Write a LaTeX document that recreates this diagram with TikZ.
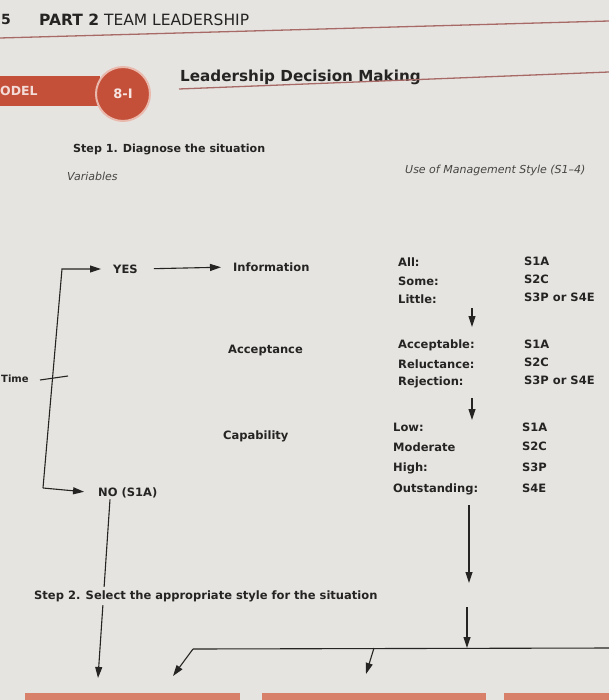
\documentclass[tikz,border=0pt]{standalone}
\usepackage{fontspec}
\setmainfont{DejaVu Sans}
\usetikzlibrary{arrows.meta}

\definecolor{paper}{HTML}{E6E4E1}
\definecolor{ink}{HTML}{262422}
\definecolor{brick}{HTML}{C4503A}
\definecolor{rulered}{HTML}{A86A66}
\definecolor{salmon}{HTML}{D8806A}

\tikzset{
  lbl/.style={text=ink, inner sep=1pt, anchor=west, font=\bfseries\fontsize{11.5}{13}\selectfont},
  slant/.style={text=ink!85, inner sep=1pt, anchor=west, font=\itshape\fontsize{11}{13}\selectfont},
  arr/.style={ink, line width=1.1pt, -{Triangle[length=11pt,width=7pt]}},
  ln/.style={ink, line width=1.1pt}
}

\begin{document}
\begin{tikzpicture}[x=1pt,y=-1pt]
  \fill [paper] (0,0) rectangle (609,700);
  \useasboundingbox (0,0) rectangle (609,700);

  % page head
  \node [lbl, font=\bfseries\fontsize{14}{16}\selectfont] (pg) at (0,20) {5};
  \node [lbl, font=\fontsize{15.5}{17}\selectfont] (part) at (38,20) {\textbf{PART 2} TEAM LEADERSHIP};
  \draw [rulered, line width=1.3pt] (0,38) -- (609,21);

  % model banner
  \fill [brick] (0,76) rectangle (100,106);
  \node [lbl, text=white!80!brick, font=\bfseries\fontsize{12.5}{14}\selectfont] (model) at (-1,91) {ODEL};
  \node [circle, fill=brick, draw=salmon!55!white, line width=2pt, minimum size=54pt,
         text=white!85!brick, font=\bfseries\fontsize{13}{14}\selectfont] (num) at (123,94) {8-I};
  \node [lbl, font=\bfseries\fontsize{15.2}{17}\selectfont] (title) at (179,77) {Leadership Decision Making};
  \draw [rulered, line width=1.3pt] (179,89) -- (609,72);

  % step 1
  \node [lbl, font=\bfseries\fontsize{11.1}{13}\selectfont] (step1) at (72,149) {Step 1. Diagnose the situation};
  \node [slant] (vars) at (66,176) {Variables};
  \node [slant] (use) at (404,170) {Use of Management Style (S1--4)};

  % variables
  \node [lbl] (yes) at (112,269) {YES};
  \node [lbl] (info) at (232,267) {Information};
  \node [lbl] (accept) at (227,351) {Acceptance};
  \node [lbl] (capab) at (222,436) {Capability};
  \node [lbl] (no) at (97,493) {NO (S1A)};
  \node [lbl, font=\bfseries\fontsize{10}{12}\selectfont] (time) at (0,379) {Time};

  \coordinate (ltop) at (62,269);
  \coordinate (lbot) at (43,488);
  \coordinate (tick) at (40,380);
  \draw [arr, shorten >=11pt] (lbot) -- (ltop) -- (yes.west);
  \draw [arr, shorten >=13pt] (lbot) -- (no.west);
  \draw [ln] (tick) -- ++(28,-4);
  \draw [arr, shorten <=15pt, shorten >=11pt] (yes.east) -- (info.west);

  % levels
  \node [lbl] (all) at (397,262) {All:};
  \node [lbl] (some) at (397,281) {Some:};
  \node [lbl] (little) at (397,299) {Little:};
  \node [lbl] (acc) at (397,345) {Acceptable:};
  \node [lbl] (rel) at (397,364) {Reluctance:};
  \node [lbl] (rej) at (397,382) {Rejection:};
  \node [lbl] (low) at (392,427) {Low:};
  \node [lbl] (mod) at (392,447) {Moderate};
  \node [lbl] (high) at (392,468) {High:};
  \node [lbl] (outs) at (392,489) {Outstanding:};

  % styles
  \node [lbl] (sa) at (523,261) {S1A};
  \node [lbl] (sb) at (523,279) {S2C};
  \node [lbl] (sc) at (523,297) {S3P or S4E};
  \node [lbl] (sd) at (523,344) {S1A};
  \node [lbl] (se) at (523,362) {S2C};
  \node [lbl] (sf) at (523,380) {S3P or S4E};
  \node [lbl] (sg) at (521,427) {S1A};
  \node [lbl] (sh) at (521,446) {S2C};
  \node [lbl] (si) at (521,467) {S3P};
  \node [lbl] (sj) at (521,488) {S4E};

  % down arrows
  \coordinate (d1) at (472,308);
  \coordinate (d1e) at (472,327);
  \coordinate (d2) at (472,398);
  \coordinate (d2e) at (472,420);
  \coordinate (d3) at (469,505);
  \coordinate (d3e) at (469,583);
  \coordinate (d4) at (467,607);
  \coordinate (d4e) at (467,648);
  \draw [arr] (d1) -- (d1e);
  \draw [arr] (d2) -- (d2e);
  \draw [arr] (d3) -- (d3e);
  \draw [arr] (d4) -- (d4e);

  % step 2
  \coordinate (nend) at (98,678);
  \draw [arr] ([xshift=13pt]no.south west) -- (nend);
  \node [lbl, fill=paper, inner ysep=3pt] (step2) at (33,596) {Step 2. Select the appropriate style for the situation};

  \coordinate (bl) at (193,649);
  \coordinate (bm) at (374,648);
  \coordinate (br) at (612,648);
  \coordinate (p1) at (173,676);
  \coordinate (p2) at (366,674);
  \draw [ln] (bl) -- (br);
  \draw [arr] (bl) -- (p1);
  \draw [arr] (bm) -- (p2);

  % style boxes
  \fill [salmon] (25,693) rectangle (240,705);
  \fill [salmon] (262,693) rectangle (486,705);
  \fill [salmon] (504,693) rectangle (612,705);
\end{tikzpicture}
\end{document}
